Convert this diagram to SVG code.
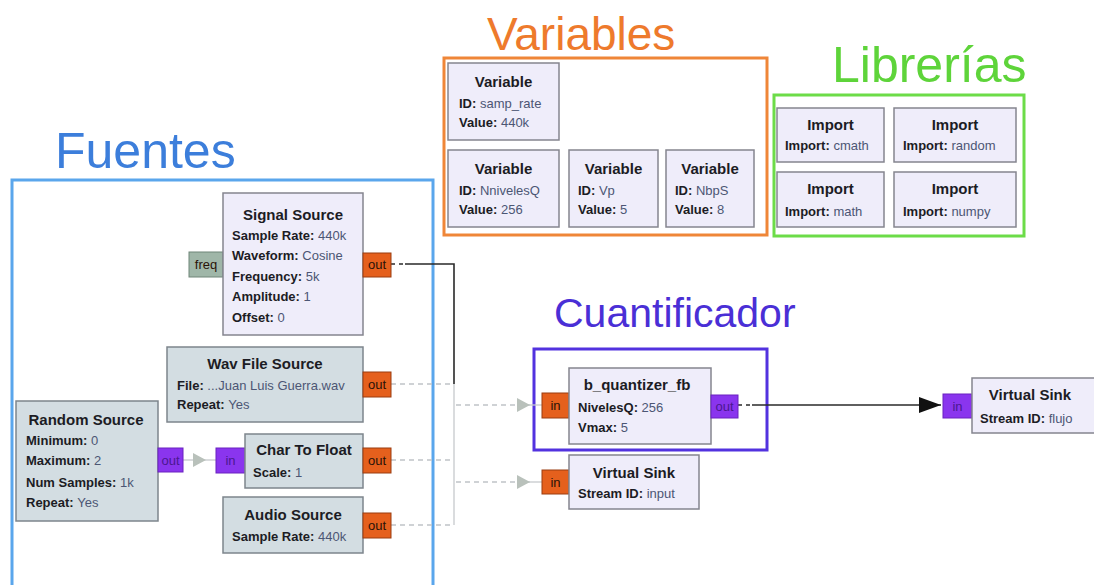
<svg xmlns="http://www.w3.org/2000/svg" width="1094" height="585" viewBox="0 0 1094 585">
  <style>
    .grp-title { font-family: "Liberation Sans", Arial, sans-serif; }
    .blk { fill: #efedfa; stroke: #85858f; stroke-width: 1.5; }
    .blk-off { fill: #d3dde2; stroke: #7d858c; stroke-width: 1.5; }
    .t { font-family: "Liberation Sans", Arial, sans-serif; font-size: 15px; font-weight: bold; fill: #1c1c24; text-anchor: middle; }
    .p { font-family: "Liberation Sans", Arial, sans-serif; font-size: 13px; fill: #4c5674; }
    .k { font-weight: bold; fill: #1c1c24; }
    .port-o { fill: #e5601d; stroke: #9a3c10; stroke-width: 1; }
    .port-p { fill: #8a35ee; stroke: #6a22c0; stroke-width: 1; }
    .port-m { fill: #9fb6a8; stroke: #6f8578; stroke-width: 1; }
    .pt { font-family: "Liberation Sans", Arial, sans-serif; font-size: 13px; fill: #2a1208; text-anchor: middle; }
    .pt-p { font-family: "Liberation Sans", Arial, sans-serif; font-size: 13px; fill: #4a1890; text-anchor: middle; }
    .c-gray { fill: none; stroke: #c6c9cc; stroke-width: 1.3; }
    .c-dash { fill: none; stroke: #c0c4c8; stroke-width: 1.3; stroke-dasharray: 5 4; }
    .c-dark { fill: none; stroke: #2a2a2a; stroke-width: 1.6; }
    .c-dark-dash { fill: none; stroke: #2a2a2a; stroke-width: 1.6; stroke-dasharray: 4 4; }
  </style>
  <defs>
    <marker id="arrow-gray" markerUnits="userSpaceOnUse" markerWidth="13" markerHeight="14" refX="13" refY="7" orient="auto">
      <path d="M0,0 L13,7 L0,14 Z" fill="#b9c1bb"/>
    </marker>
    <marker id="arrow-black" markerUnits="userSpaceOnUse" markerWidth="22" markerHeight="16" refX="22" refY="8" orient="auto">
      <path d="M0,0 L22,8 L0,16 Z" fill="#111"/>
    </marker>
  </defs>

  <rect width="1094" height="585" fill="#ffffff"/>

  <!-- group frames and headings -->
  <g id="group-fuentes">
    <rect x="12" y="180" width="421" height="420" fill="none" stroke="#5aa6ec" stroke-width="3"/>
    <text class="grp-title" x="55" y="168" font-size="50" fill="#3c7edb">Fuentes</text>
  </g>
  <g id="group-variables">
    <rect x="444" y="58" width="323" height="177" fill="none" stroke="#ef8638" stroke-width="3"/>
    <text class="grp-title" x="487" y="50" font-size="46" fill="#ee7a2c">Variables</text>
  </g>
  <g id="group-librerias">
    <rect x="774" y="95" width="250" height="141" fill="none" stroke="#6cdc48" stroke-width="3"/>
    <text class="grp-title" x="832" y="82" font-size="50" fill="#5ed43a">Librerías</text>
  </g>
  <g id="group-cuantificador">
    <rect x="534" y="349" width="233" height="101" fill="none" stroke="#5232df" stroke-width="3"/>
    <text class="grp-title" x="554" y="327" font-size="41" fill="#4a2fd6">Cuantificador</text>
  </g>

  <!-- connectors -->
  <g id="connectors">
    <path class="c-dark-dash" d="M391,264 H403"/>
    <path class="c-dark" d="M405,264 H454 V384"/>
    <path class="c-dash" d="M391,384 H454"/>
    <path class="c-dash" d="M391,460 H454"/>
    <path class="c-dash" d="M391,525 H454"/>
    <path class="c-gray" d="M454,384 V525"/>
    <path class="c-dash" d="M456,405 H530" marker-end="url(#arrow-gray)"/>
    <path class="c-gray" d="M530,405 H542" stroke="#a9c8e6"/>
    <path class="c-dash" d="M456,482 H530" marker-end="url(#arrow-gray)"/>
    <path class="c-gray" d="M530,482 H542"/>
    <path class="c-gray" d="M183,460 H206" marker-end="url(#arrow-gray)"/>
    <path class="c-gray" d="M206,460 H216"/>
    <path class="c-dark-dash" d="M738,405 H750"/>
    <path class="c-dark" d="M752,405 H941" marker-end="url(#arrow-black)"/>
  </g>

  <!-- variables -->
  <g id="var-samp-rate">
    <rect class="blk" x="448" y="63" width="111" height="77"/>
    <text class="t" x="503.5" y="87">Variable</text>
    <text class="p" x="459" y="108"><tspan class="k">ID: </tspan>samp_rate</text>
    <text class="p" x="459" y="127"><tspan class="k">Value: </tspan>440k</text>
  </g>
  <g id="var-nnivelesq">
    <rect class="blk" x="448" y="150" width="111" height="77"/>
    <text class="t" x="503.5" y="174">Variable</text>
    <text class="p" x="459" y="195"><tspan class="k">ID: </tspan>NnivelesQ</text>
    <text class="p" x="459" y="214"><tspan class="k">Value: </tspan>256</text>
  </g>
  <g id="var-vp">
    <rect class="blk" x="569" y="150" width="89" height="77"/>
    <text class="t" x="613.5" y="174">Variable</text>
    <text class="p" x="578" y="195"><tspan class="k">ID: </tspan>Vp</text>
    <text class="p" x="578" y="214"><tspan class="k">Value: </tspan>5</text>
  </g>
  <g id="var-nbps">
    <rect class="blk" x="666" y="150" width="88" height="77"/>
    <text class="t" x="710" y="174">Variable</text>
    <text class="p" x="675" y="195"><tspan class="k">ID: </tspan>NbpS</text>
    <text class="p" x="675" y="214"><tspan class="k">Value: </tspan>8</text>
  </g>

  <!-- imports -->
  <g id="import-cmath">
    <rect class="blk" x="777" y="108" width="107" height="54"/>
    <text class="t" x="830.5" y="130">Import</text>
    <text class="p" x="785" y="150"><tspan class="k">Import: </tspan>cmath</text>
  </g>
  <g id="import-random">
    <rect class="blk" x="894" y="108" width="122" height="54"/>
    <text class="t" x="955" y="130">Import</text>
    <text class="p" x="903" y="150"><tspan class="k">Import: </tspan>random</text>
  </g>
  <g id="import-math">
    <rect class="blk" x="777" y="172" width="107" height="55"/>
    <text class="t" x="830.5" y="194">Import</text>
    <text class="p" x="785" y="216"><tspan class="k">Import: </tspan>math</text>
  </g>
  <g id="import-numpy">
    <rect class="blk" x="894" y="172" width="122" height="55"/>
    <text class="t" x="955" y="194">Import</text>
    <text class="p" x="903" y="216"><tspan class="k">Import: </tspan>numpy</text>
  </g>

  <!-- sources -->
  <g id="signal-source">
    <rect class="port-m" x="189" y="252" width="34" height="25"/>
    <text class="pt" x="206" y="269">freq</text>
    <rect class="blk" x="223" y="193" width="140" height="142"/>
    <text class="t" x="293" y="220">Signal Source</text>
    <text class="p" x="232" y="240"><tspan class="k">Sample Rate: </tspan>440k</text>
    <text class="p" x="232" y="260"><tspan class="k">Waveform: </tspan>Cosine</text>
    <text class="p" x="232" y="281"><tspan class="k">Frequency: </tspan>5k</text>
    <text class="p" x="232" y="301"><tspan class="k">Amplitude: </tspan>1</text>
    <text class="p" x="232" y="322"><tspan class="k">Offset: </tspan>0</text>
    <rect class="port-o" x="363" y="253" width="28" height="24"/>
    <text class="pt" x="377" y="269">out</text>
  </g>
  <g id="wav-file-source">
    <rect class="blk-off" x="167" y="347" width="196" height="75"/>
    <text class="t" x="265" y="369">Wav File Source</text>
    <text class="p" x="177" y="390"><tspan class="k">File: </tspan>...Juan Luis Guerra.wav</text>
    <text class="p" x="177" y="409"><tspan class="k">Repeat: </tspan>Yes</text>
    <rect class="port-o" x="363" y="372" width="28" height="25"/>
    <text class="pt" x="377" y="389">out</text>
  </g>
  <g id="random-source">
    <rect class="blk-off" x="16" y="401" width="142" height="120"/>
    <text class="t" x="86" y="425">Random Source</text>
    <text class="p" x="26" y="445"><tspan class="k">Minimum: </tspan>0</text>
    <text class="p" x="26" y="465"><tspan class="k">Maximum: </tspan>2</text>
    <text class="p" x="26" y="487"><tspan class="k">Num Samples: </tspan>1k</text>
    <text class="p" x="26" y="507"><tspan class="k">Repeat: </tspan>Yes</text>
    <rect class="port-p" x="158" y="448" width="25" height="24"/>
    <text class="pt-p" x="170.5" y="465">out</text>
  </g>
  <g id="char-to-float">
    <rect class="port-p" x="216" y="448" width="29" height="25"/>
    <text class="pt-p" x="230.5" y="465">in</text>
    <rect class="blk-off" x="245" y="434" width="118" height="54"/>
    <text class="t" x="304" y="455">Char To Float</text>
    <text class="p" x="253" y="477"><tspan class="k">Scale: </tspan>1</text>
    <rect class="port-o" x="363" y="448" width="28" height="25"/>
    <text class="pt" x="377" y="465">out</text>
  </g>
  <g id="audio-source">
    <rect class="blk-off" x="223" y="497" width="140" height="56"/>
    <text class="t" x="293" y="520">Audio Source</text>
    <text class="p" x="232" y="541"><tspan class="k">Sample Rate: </tspan>440k</text>
    <rect class="port-o" x="363" y="513" width="28" height="25"/>
    <text class="pt" x="377" y="530">out</text>
  </g>

  <!-- quantizer and sinks -->
  <g id="b-quantizer-fb">
    <rect class="port-o" x="542" y="393" width="27" height="25"/>
    <text class="pt" x="555.5" y="410">in</text>
    <rect class="blk" x="569" y="368" width="142" height="76"/>
    <text class="t" x="637" y="390">b_quantizer_fb</text>
    <text class="p" x="578" y="412"><tspan class="k">NivelesQ: </tspan>256</text>
    <text class="p" x="578" y="432"><tspan class="k">Vmax: </tspan>5</text>
    <rect class="port-p" x="711" y="395" width="27" height="23"/>
    <text class="pt-p" x="724.5" y="411">out</text>
  </g>
  <g id="virtual-sink-input">
    <rect class="port-o" x="542" y="470" width="27" height="24"/>
    <text class="pt" x="555.5" y="487">in</text>
    <rect class="blk" x="569" y="455" width="130" height="54"/>
    <text class="t" x="634" y="478">Virtual Sink</text>
    <text class="p" x="578" y="498"><tspan class="k">Stream ID: </tspan>input</text>
  </g>
  <g id="virtual-sink-flujo">
    <rect class="port-p" x="943" y="394" width="29" height="24"/>
    <text class="pt-p" x="957.5" y="411">in</text>
    <rect class="blk" x="972" y="378" width="125" height="55"/>
    <text class="t" x="1030" y="400">Virtual Sink</text>
    <text class="p" x="980" y="423"><tspan class="k">Stream ID: </tspan>flujo</text>
  </g>
</svg>
